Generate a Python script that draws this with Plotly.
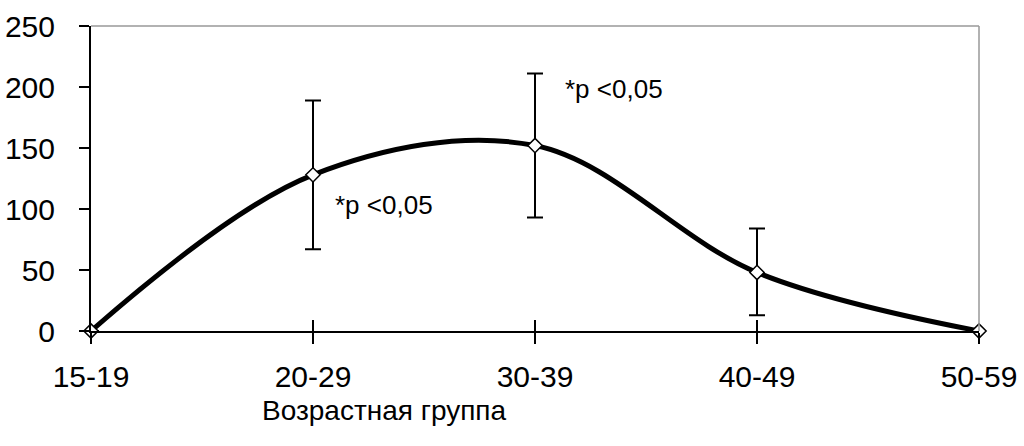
import plotly.graph_objects as go

categories = ["15-19", "20-29", "30-39", "40-49", "50-59"]
values = [0, 128, 152, 48, 0]
err_plus = [None, 61, 59, 36, None]
err_minus = [None, 61, 59, 35, None]
y_ticks = [0, 50, 100, 150, 200, 250]
notes = [("*p <0,05", 1.09, 103), ("*p <0,05", 2.125, 198)]
x_title = "Возрастная группа"

FONT = "Liberation Sans, Arial, sans-serif"
fig = go.Figure()
fig.add_trace(go.Scatter(
    x=categories, y=values, mode="lines+markers",
    line=dict(color="black", width=5, shape="spline", smoothing=1.0),
    marker=dict(symbol="diamond", size=11, color="white", line=dict(color="black", width=1.5)),
    error_y=dict(type="data", array=err_plus, arrayminus=err_minus, symmetric=False,
                 color="black", thickness=2, width=8),
    showlegend=False, cliponaxis=False,
))
# invisible trace on overlay axis for inside tick marks
fig.add_trace(go.Scatter(x=categories, y=values, xaxis="x2", mode="none", showlegend=False, hoverinfo="skip"))

for text, xx, yy in notes:
    fig.add_annotation(x=xx, y=yy, text=text, showarrow=False, xanchor="left", yanchor="middle",
                       font=dict(size=26, color="black", family=FONT))

fig.add_annotation(x=0.331, y=-0.262, xref="paper", yref="paper", text=x_title, showarrow=False,
                   xanchor="center", yanchor="middle", font=dict(size=28, color="black", family=FONT))

fig.add_shape(type="line", xref="x domain", yref="y domain", x0=0, x1=1, y0=1, y1=1,
              line=dict(color="#999999", width=1.5))
fig.add_shape(type="line", xref="x domain", yref="y domain", x0=1, x1=1, y0=0, y1=1,
              line=dict(color="#999999", width=1.5))

fig.update_layout(
    width=1024, height=446, margin=dict(l=91, r=45, t=26, b=115, autoexpand=False),
    paper_bgcolor="white", plot_bgcolor="white",
    font=dict(family=FONT, size=30, color="black"),
    xaxis=dict(type="category", range=[0, 4], showgrid=False, zeroline=False, automargin=False,
               showline=True, linecolor="black", linewidth=2,
               ticks="outside", ticklen=11, tickwidth=2, tickcolor="black",
               tickfont=dict(size=30), ticklabelstandoff=7),
    xaxis2=dict(type="category", range=[0, 4], overlaying="x", anchor="y", side="bottom",
                showgrid=False, zeroline=False, showline=False, showticklabels=False, automargin=False,
                ticks="inside", ticklen=11, tickwidth=2, tickcolor="black"),
    yaxis=dict(range=[0, 250], tickvals=y_ticks, showgrid=False, zeroline=False, automargin=False,
               showline=True, linecolor="black", linewidth=2,
               ticks="outside", ticklen=10, tickwidth=2, tickcolor="black",
               tickfont=dict(size=30), ticklabelstandoff=18),
)
fig.write_html("out.html")
